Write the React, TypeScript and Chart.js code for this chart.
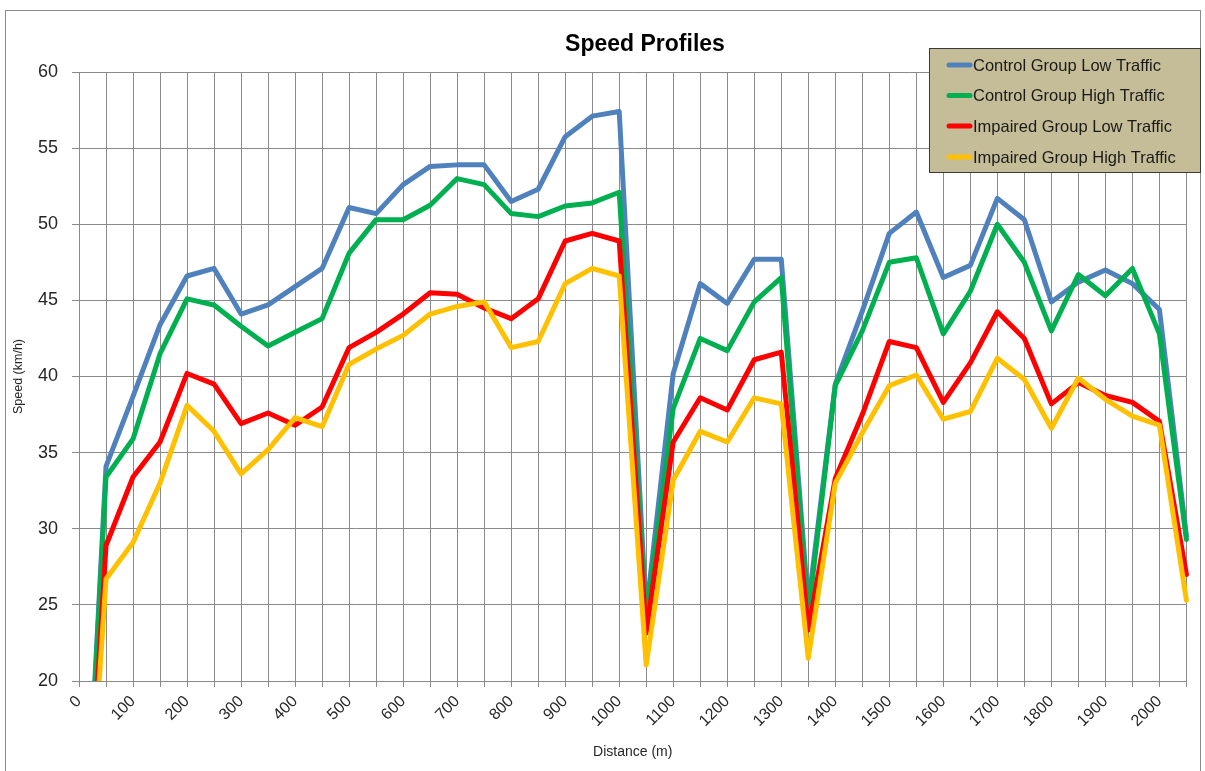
import React, { useEffect, useRef } from "react";
import { Chart, registerables } from "chart.js";

Chart.register(...registerables);

const distances: string[] = [
  "0", "50", "100", "150", "200", "250", "300", "350", "400", "450",
  "500", "550", "600", "650", "700", "750", "800", "850", "900", "950",
  "1000", "1050", "1100", "1150", "1200", "1250", "1300", "1350", "1400", "1450",
  "1500", "1550", "1600", "1650", "1700", "1750", "1800", "1850", "1900", "1950",
  "2000", "2050",
];

const controlLow: number[] = [
  0, 34.1, 38.7, 43.4, 46.6, 47.1, 44.1, 44.7, 45.9, 47.1,
  51.1, 50.7, 52.6, 53.8, 53.9, 53.9, 51.5, 52.3, 55.75, 57.1,
  57.4, 24.5, 40.2, 46.1, 44.8, 47.7, 47.7, 25.0, 39.5, 44.3,
  49.4, 50.8, 46.5, 47.3, 51.7, 50.3, 44.9, 46.2, 47.0, 46.1,
  44.4, 29.5,
];

const controlHigh: number[] = [
  0, 33.4, 35.9, 41.5, 45.1, 44.7, 43.3, 42.0, 42.9, 43.8,
  48.1, 50.3, 50.3, 51.25, 53.0, 52.6, 50.7, 50.5, 51.2, 51.4,
  52.1, 24.1, 37.9, 42.5, 41.7, 44.9, 46.5, 24.4, 39.4, 43.0,
  47.5, 47.8, 42.8, 45.6, 50.0, 47.5, 43.0, 46.7, 45.3, 47.1,
  42.8, 29.3,
];

const impairedLow: number[] = [
  0, 28.9, 33.4, 35.7, 40.2, 39.5, 36.9, 37.6, 36.8, 38.0,
  41.9, 42.9, 44.1, 45.5, 45.4, 44.5, 43.8, 45.1, 48.9, 49.4,
  48.9, 23.15, 35.7, 38.6, 37.8, 41.1, 41.6, 23.35, 33.3, 37.5,
  42.3, 41.9, 38.3, 40.9, 44.25, 42.5, 38.2, 39.6, 38.75, 38.3,
  37.05, 27.0,
];

const impairedHigh: number[] = [
  0, 26.7, 29.1, 33.0, 38.1, 36.4, 33.6, 35.2, 37.3, 36.7,
  40.8, 41.8, 42.7, 44.1, 44.6, 44.9, 41.9, 42.3, 46.1, 47.1,
  46.6, 21.05, 33.2, 36.4, 35.7, 38.6, 38.2, 21.5, 33.0, 36.3,
  39.4, 40.1, 37.2, 37.7, 41.2, 39.8, 36.6, 39.9, 38.5, 37.4,
  36.8, 25.3,
];

const seriesLabels: string[] = [
  "Control Group Low Traffic",
  "Control Group High Traffic",
  "Impaired Group Low Traffic",
  "Impaired Group High Traffic",
];

const seriesColors: string[] = ["#4F81BD", "#00B050", "#FF0000", "#FFC000"];

const chartTitle = "Speed Profiles";

const SANS = "'Liberation Sans', Arial, sans-serif";

const frameAndLegend = {
  id: "frameAndLegend",
  beforeDraw(chart: any) {
    const ctx = chart.ctx;
    ctx.save();
    ctx.fillStyle = "#ffffff";
    ctx.fillRect(0, 0, chart.width, chart.height);
    ctx.strokeStyle = "#8a8a8a";
    ctx.lineWidth = 1;
    ctx.strokeRect(5.5, 10.5, 1195, 775);
    ctx.restore();
  },
  afterDraw(chart: any) {
    const ctx = chart.ctx;
    ctx.save();
    // title
    ctx.fillStyle = "#000000";
    ctx.font = `bold 23px ${SANS}`;
    ctx.textAlign = "center";
    ctx.textBaseline = "middle";
    ctx.fillText(chartTitle, 645, 45);
    // legend
    const bx = 929.5, by = 48.5, bw = 271, bh = 124;
    ctx.fillStyle = "#C4BD97";
    ctx.fillRect(bx, by, bw, bh);
    ctx.strokeStyle = "#3a3a3a";
    ctx.lineWidth = 1;
    ctx.strokeRect(bx, by, bw, bh);
    const rows = [65, 95.5, 126, 157];
    chart.data.datasets.forEach((ds: any, i: number) => {
      const y = rows[i];
      ctx.strokeStyle = ds.borderColor;
      ctx.lineWidth = 5;
      ctx.lineCap = "round";
      ctx.beginPath();
      ctx.moveTo(949, y);
      ctx.lineTo(970, y);
      ctx.stroke();
      ctx.fillStyle = "#1a1a1a";
      ctx.font = `16.5px ${SANS}`;
      ctx.textBaseline = "middle";
      ctx.textAlign = "left";
      ctx.fillText(ds.label, 973, y + 1);
    });
    ctx.restore();
  },
};

export default function App() {
  const canvasRef = useRef<HTMLCanvasElement | null>(null);

  useEffect(() => {
    const canvas = canvasRef.current;
    if (!canvas) return;
    const seriesData = [controlLow, controlHigh, impairedLow, impairedHigh];
    const chart = new Chart(canvas, {
      type: "line",
      data: {
        labels: distances,
        datasets: seriesData.map((d, i) => ({
          label: seriesLabels[i],
          data: d,
          borderColor: seriesColors[i],
          backgroundColor: seriesColors[i],
          borderWidth: 5,
          pointRadius: 0,
          pointHoverRadius: 0,
          tension: 0,
          fill: false,
          borderJoinStyle: "round" as const,
          borderCapStyle: "round" as const,
          order: 3 - i,
          clip: { left: 0, bottom: 0, top: 4, right: 4 } as any,
        })),
      },
      options: {
        responsive: false,
        animation: false,
        layout: { padding: { left: 0, right: 15, top: 72, bottom: 0 } },
        plugins: {
          legend: { display: false },
          tooltip: { enabled: false },
          title: { display: false },
        },
        scales: {
          x: {
            type: "category",
            offset: false,
            grid: { color: "#8a8a8a", lineWidth: 1, tickLength: 6, drawTicks: true },
            border: { color: "#8a8a8a", width: 1 },
            ticks: {
              autoSkip: false,
              minRotation: 45,
              maxRotation: 45,
              color: "#262626",
              padding: 5,
              font: { family: SANS, size: 16 },
              callback: (_v: any, idx: number) => (idx % 2 === 0 ? distances[idx] : ""),
            },
            title: {
              display: true,
              text: "Distance (m)",
              color: "#262626",
              font: { family: SANS, size: 14, lineHeight: 1.2 },
              padding: { top: 0, bottom: 10.6 },
            },
            afterFit: (scale: any) => {
              scale.height = 90;
            },
          },
          y: {
            min: 20,
            max: 60,
            grid: { color: "#8a8a8a", lineWidth: 1, tickLength: 7 },
            border: { color: "#8a8a8a", width: 1 },
            ticks: {
              stepSize: 5,
              color: "#262626",
              padding: 14,
              font: { family: SANS, size: 18 },
            },
            title: {
              display: true,
              text: "Speed (km/h)",
              color: "#262626",
              font: { family: SANS, size: 12.5, lineHeight: 1.2 },
              padding: { top: 11.5, bottom: 0 },
            },
            afterFit: (scale: any) => {
              scale.width = 79;
            },
          },
        },
      },
      plugins: [frameAndLegend],
    });
    return () => chart.destroy();
  }, []);

  return (
    <div style={{ position: "absolute", left: 0, top: 0, width: 1205, height: 771, overflow: "hidden" }}>
      <canvas ref={canvasRef} width={1205} height={771} style={{ display: "block" }} />
    </div>
  );
}
